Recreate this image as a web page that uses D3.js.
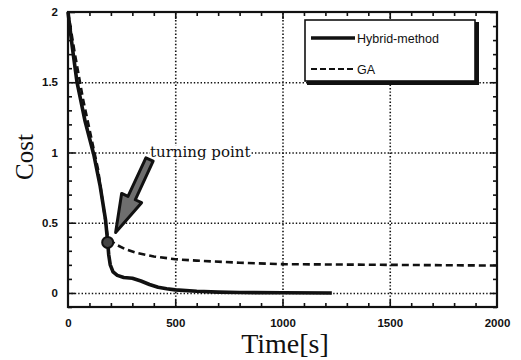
<!DOCTYPE html>
<html>
<head>
<meta charset="utf-8">
<script src="https://cdn.jsdelivr.net/npm/d3@7"></script>
<style>
  body { margin: 0; background: #fff; }
  svg { display: block; }
  .tick text { font-family: "Liberation Sans", Arial, sans-serif; font-weight: bold; font-size: 11.5px; fill: #111; }
  .grid line { stroke: #111; stroke-width: 1.6; stroke-dasharray: 1.4,2; }
  .grid path, .ticks path { display: none; }
  .ticks line { stroke: #111; stroke-width: 1.6; }
</style>
</head>
<body>
<script>
// hybrid method cost over time
var hybridTime = [0, 20, 42, 80, 121, 150, 175, 185, 190, 197, 210, 230, 260, 300, 340, 380, 420, 460, 500, 600, 700, 800, 1000, 1230];
var hybridCost = [2.0, 1.75, 1.5, 1.22, 0.98, 0.76, 0.52, 0.36, 0.27, 0.2, 0.15, 0.125, 0.11, 0.105, 0.085, 0.06, 0.04, 0.03, 0.022, 0.012, 0.006, 0.003, 0.001, 0.0];
// GA cost over time
var gaTime = [0, 30, 70, 140, 185, 200, 230, 270, 320, 400, 500, 600, 800, 1000, 1500, 2000];
var gaCost = [2.0, 1.72, 1.38, 0.88, 0.4, 0.37, 0.34, 0.31, 0.285, 0.26, 0.24, 0.23, 0.215, 0.205, 0.2, 0.195];
var seriesNames = ["Hybrid-method", "GA"];
var xTickLabels = [0, 500, 1000, 1500, 2000];
var yTickLabels = [0, 0.5, 1, 1.5, 2];
// annotation
var turnPoint = [185, 0.36];
var arrowFrom = [380, 0.95];
var arrowTo = [222, 0.43];
var noteText = "turning point";
var notePos = [382, 0.97];

var W = 521, H = 360;
var x = d3.scaleLinear().domain([0, 2000]).range([68, 497]);
var y = d3.scaleLinear().domain([-0.1, 2]).range([307, 12]);

var svg = d3.select("body").append("svg").attr("width", W).attr("height", H);

// grid
svg.append("g").attr("class", "grid")
  .attr("transform", "translate(0,307)")
  .call(d3.axisBottom(x).tickValues([500, 1000, 1500]).tickSize(-295).tickFormat(""));
svg.append("g").attr("class", "grid")
  .attr("transform", "translate(68,0)")
  .call(d3.axisLeft(y).tickValues([0, 0.5, 1, 1.5]).tickSize(-429).tickFormat(""));

// minor ticks (inward) on all four sides
var minorX = d3.range(100, 2000, 100);
var minorY = d3.range(-0.1, 2.0001, 0.1).map(function(v){ return Math.round(v*10)/10; });
function tickLen(v, step){ return Math.abs(v/step - Math.round(v/step)) < 1e-6 ? 7 : 4; }
svg.append("g").attr("class", "ticks").attr("transform", "translate(0,307)")
  .call(d3.axisBottom(x).tickValues(minorX).tickSize(-4).tickFormat(""))
  .selectAll("line").attr("y2", function(d){ return -tickLen(d, 500); });
svg.append("g").attr("class", "ticks").attr("transform", "translate(0,12)")
  .call(d3.axisTop(x).tickValues(minorX).tickSize(-4).tickFormat(""))
  .selectAll("line").attr("y2", function(d){ return tickLen(d, 500); });
svg.append("g").attr("class", "ticks").attr("transform", "translate(68,0)")
  .call(d3.axisLeft(y).tickValues(minorY).tickSize(-4).tickFormat(""))
  .selectAll("line").attr("x2", function(d){ return tickLen(d, 0.5); });
svg.append("g").attr("class", "ticks").attr("transform", "translate(497,0)")
  .call(d3.axisRight(y).tickValues(minorY).tickSize(-4).tickFormat(""))
  .selectAll("line").attr("x2", function(d){ return -tickLen(d, 0.5); });

// tick labels
var xl = svg.append("g").attr("transform", "translate(0,312)")
  .call(d3.axisBottom(x).tickValues(xTickLabels).tickSize(0).tickPadding(7).tickFormat(d3.format("d")));
xl.select(".domain").remove();
var yl = svg.append("g").attr("transform", "translate(60,0)")
  .call(d3.axisLeft(y).tickValues(yTickLabels).tickSize(0).tickPadding(2).tickFormat(function(d){ return d; }));
yl.select(".domain").remove();

// frame
svg.append("rect").attr("x", 68).attr("y", 12).attr("width", 429).attr("height", 295)
  .attr("fill", "none").attr("stroke", "#111").attr("stroke-width", 2.2);

// lines
var line = d3.line().x(function(d){ return x(d[0]); }).y(function(d){ return y(d[1]); });
var gaData = gaTime.map(function(t, i){ return [t, gaCost[i]]; });
var hyData = hybridTime.map(function(t, i){ return [t, hybridCost[i]]; });
svg.append("path").attr("d", line(gaData)).attr("fill", "none")
  .attr("stroke", "#111").attr("stroke-width", 2.6).attr("stroke-dasharray", "7,4");
svg.append("path").attr("d", line(hyData)).attr("fill", "none")
  .attr("stroke", "#111").attr("stroke-width", 3.6).attr("stroke-linejoin", "round");

// turning point marker
svg.append("circle").attr("cx", x(turnPoint[0])).attr("cy", y(turnPoint[1])).attr("r", 5.5)
  .attr("fill", "#444").attr("stroke", "#111").attr("stroke-width", 2);

// arrow
var ax0 = x(arrowFrom[0]), ay0 = y(arrowFrom[1]), ax1 = x(arrowTo[0]), ay1 = y(arrowTo[1]);
var dx = ax1 - ax0, dy = ay1 - ay0, len = Math.sqrt(dx*dx + dy*dy);
var ux = dx/len, uy = dy/len, nx = -uy, ny = ux;
var headLen = 38, shaftW = 4, headW = 11;
var bx = ax1 - ux*headLen, by = ay1 - uy*headLen;
var pts = [
  [ax0 + nx*shaftW, ay0 + ny*shaftW],
  [bx + nx*shaftW, by + ny*shaftW],
  [bx + nx*headW, by + ny*headW],
  [ax1, ay1],
  [bx - nx*headW, by - ny*headW],
  [bx - nx*shaftW, by - ny*shaftW],
  [ax0 - nx*shaftW, ay0 - ny*shaftW]
];
svg.append("polygon").attr("points", pts.map(function(p){ return p.join(","); }).join(" "))
  .attr("fill", "#6e6e6e").attr("stroke", "#111").attr("stroke-width", 3).attr("stroke-linejoin", "round");

// note text with white backing
var note = svg.append("text").attr("x", x(notePos[0])).attr("y", y(notePos[1]))
  .attr("font-family", "'DejaVu Serif', serif").attr("font-size", 15).attr("fill", "#111")
  .text(noteText);
var nb = note.node().getBBox();
svg.insert("rect", function(){ return note.node(); })
  .attr("x", nb.x).attr("y", nb.y + 3).attr("width", nb.width).attr("height", nb.height - 6)
  .attr("fill", "#fff");

// legend
var lg = svg.append("g");
lg.append("rect").attr("x", 307).attr("y", 22).attr("width", 172).attr("height", 63).attr("fill", "#111");
lg.append("rect").attr("x", 305).attr("y", 20).attr("width", 170).attr("height", 61)
  .attr("fill", "#fff").attr("stroke", "#111").attr("stroke-width", 1.6);
var ly = [38, 69];
lg.selectAll(".ls").data(seriesNames).enter().append("line")
  .attr("x1", 311).attr("x2", 355).attr("y1", function(d, i){ return ly[i]; }).attr("y2", function(d, i){ return ly[i]; })
  .attr("stroke", "#111").attr("stroke-width", function(d, i){ return i === 0 ? 3.4 : 2.2; })
  .attr("stroke-dasharray", function(d, i){ return i === 0 ? null : "6,3"; });
lg.selectAll(".lt").data(seriesNames).enter().append("text")
  .attr("x", 357).attr("y", function(d, i){ return ly[i] + 4.5; })
  .attr("font-family", "'Liberation Sans', Arial, sans-serif").attr("font-size", 12.5).attr("fill", "#111")
  .text(function(d){ return d; });

// axis titles
svg.append("text").attr("x", 285).attr("y", 353).attr("text-anchor", "middle")
  .attr("font-family", "'Liberation Serif', 'Times New Roman', serif").attr("font-size", 28).attr("fill", "#111")
  .text("Time[s]");
svg.append("text").attr("transform", "translate(33,157) rotate(-90)").attr("text-anchor", "middle")
  .attr("font-family", "'Liberation Serif', 'Times New Roman', serif").attr("font-size", 25).attr("fill", "#111")
  .text("Cost");
</script>
</body>
</html>
